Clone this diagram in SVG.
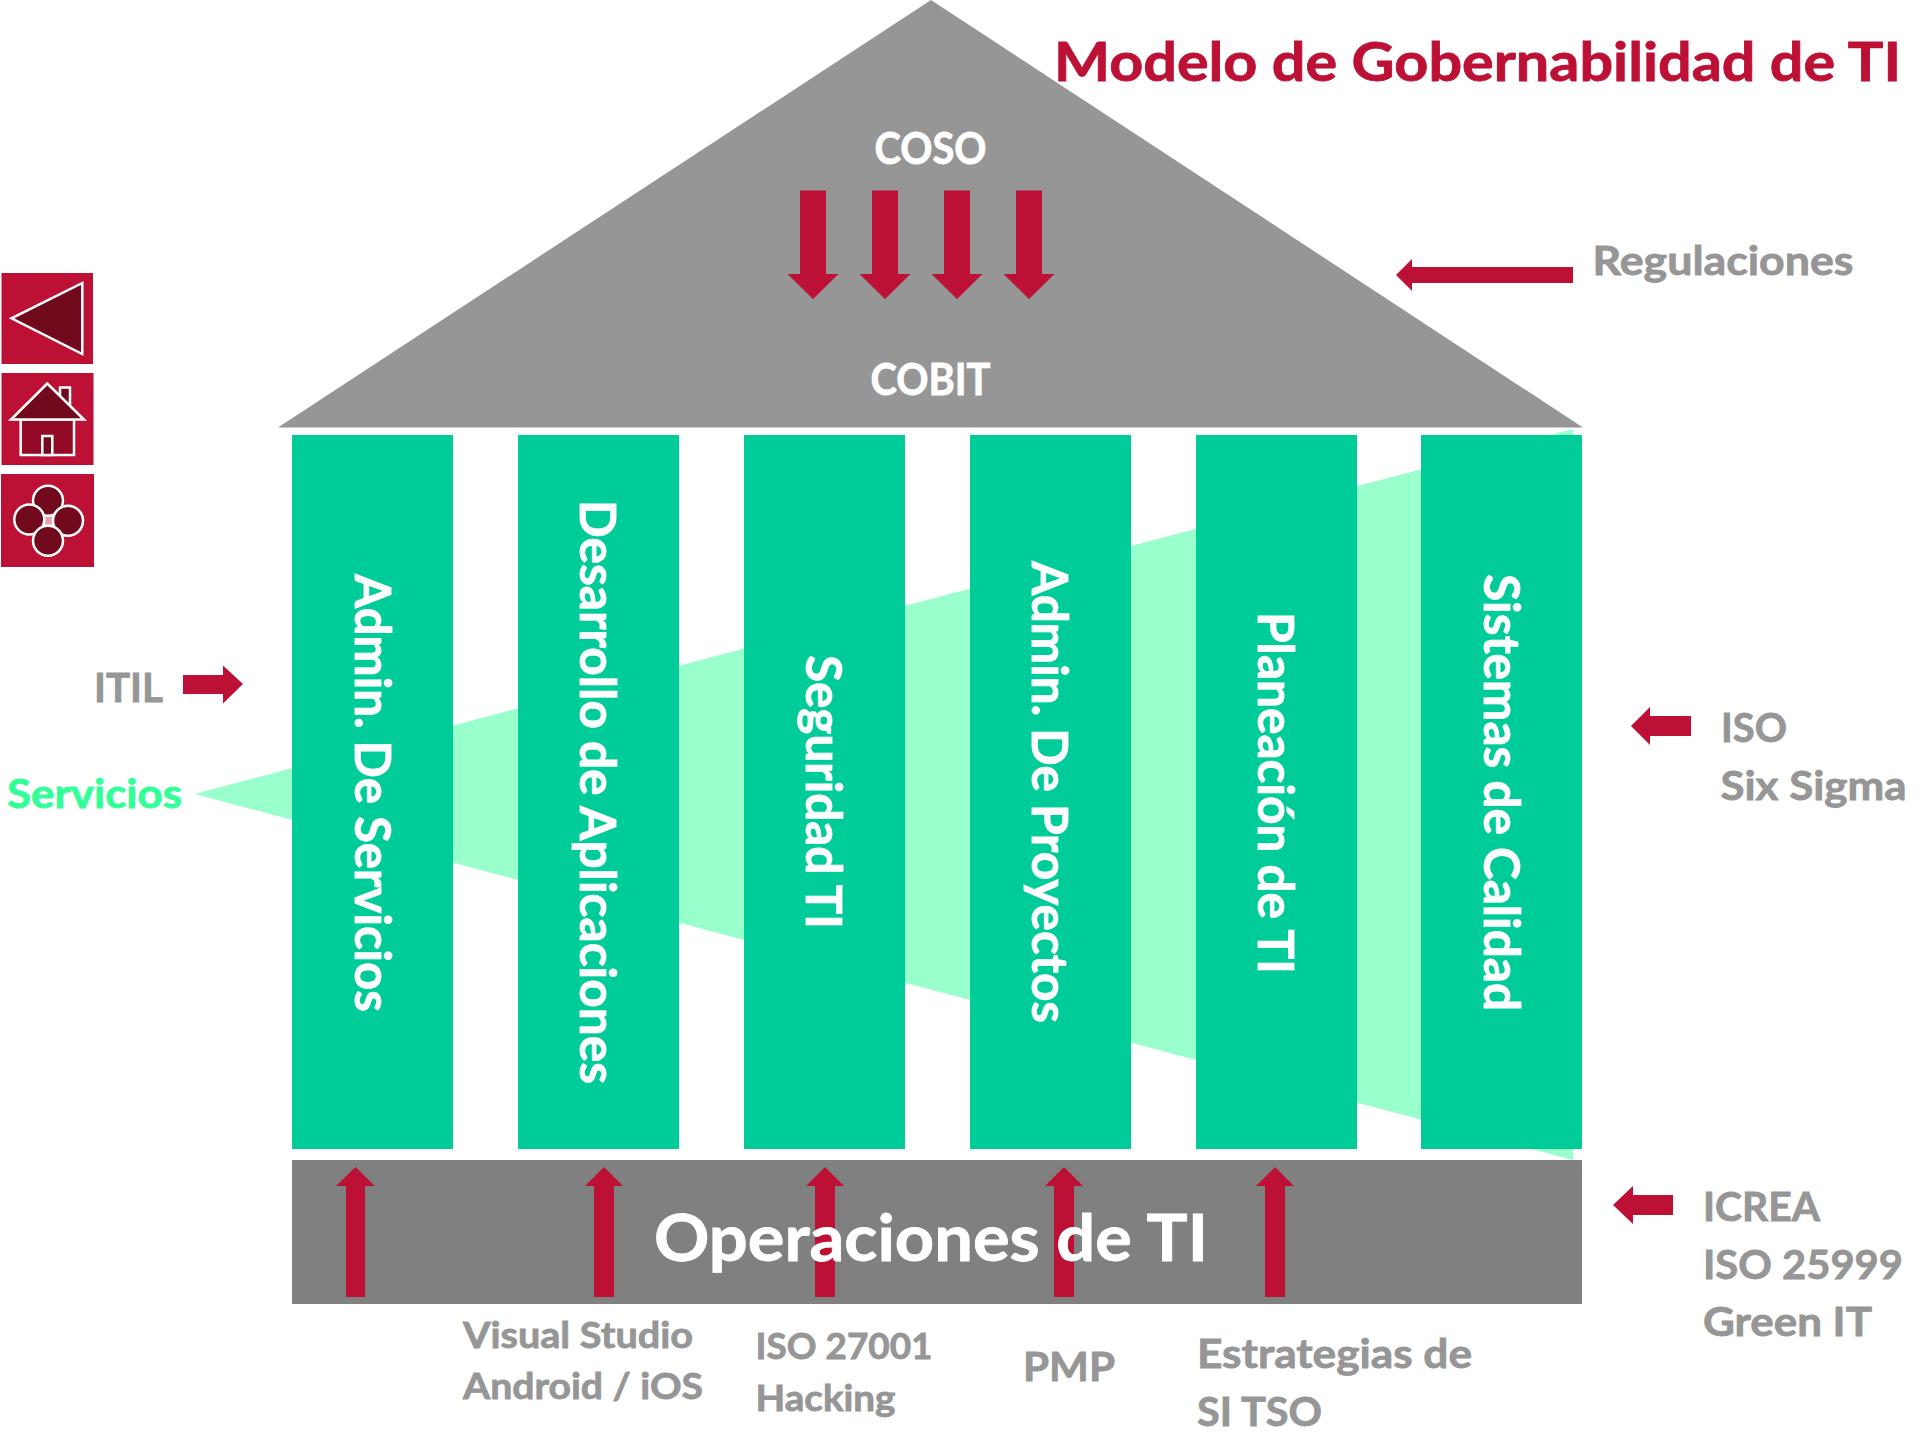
<svg xmlns="http://www.w3.org/2000/svg" width="1920" height="1440" viewBox="0 0 1920 1440">
<style>
text{font-family:"Lato","Open Sans","Liberation Sans",sans-serif;font-weight:700}
.g{fill:#969696;stroke:#969696;stroke-width:.8px;font-size:41px}
.w{fill:#fff;stroke:#fff;stroke-width:.8px}
.c{font-size:50px;fill:#fff;stroke:#fff;stroke-width:.8px}
.col{fill:#00CC99}
.red{fill:#BD1035}
.tile{fill:#BD1035}
.ic{fill:#720A1E;stroke:#fff;stroke-width:2.5}
</style>
<rect width="1920" height="1440" fill="#fff"/>
<g id="servicios-cone"><polygon points="194.5,794 1573,429 1573,1160" fill="#99FFCC"/></g>
<g id="techo">
<polygon points="931,0 278,427.500 1583,427.500" fill="#969696"/>
<text class="w" x="930.500" y="164" text-anchor="middle" font-size="44" textLength="112" lengthAdjust="spacingAndGlyphs">COSO</text>
<text class="w" x="930.500" y="395" text-anchor="middle" font-size="44" textLength="120" lengthAdjust="spacingAndGlyphs">COBIT</text>
</g>
<g id="col-servicios"><rect class="col" x="292" y="435" width="161" height="714"/><text class="c" transform="translate(354.500,574) rotate(90)" textLength="438" lengthAdjust="spacingAndGlyphs">Admin. De Servicios</text></g>
<g id="col-aplicaciones"><rect class="col" x="518" y="435" width="161" height="714"/><text class="c" transform="translate(580,500) rotate(90)" textLength="584" lengthAdjust="spacingAndGlyphs">Desarrollo de Aplicaciones</text></g>
<g id="col-seguridad"><rect class="col" x="744" y="435" width="161" height="714"/><text class="c" transform="translate(805.500,655) rotate(90)" textLength="274" lengthAdjust="spacingAndGlyphs">Seguridad TI</text></g>
<g id="col-proyectos"><rect class="col" x="970" y="435" width="161" height="714"/><text class="c" transform="translate(1031.500,561) rotate(90)" textLength="462" lengthAdjust="spacingAndGlyphs">Admin. De Proyectos</text></g>
<g id="col-planeacion"><rect class="col" x="1196" y="435" width="161" height="714"/><text class="c" transform="translate(1258,612) rotate(90)" textLength="362" lengthAdjust="spacingAndGlyphs">Planeación de TI</text></g>
<g id="col-calidad"><rect class="col" x="1421" y="435" width="161" height="714"/><text class="c" transform="translate(1484,574) rotate(90)" textLength="437" lengthAdjust="spacingAndGlyphs">Sistemas de Calidad</text></g>
<g id="operaciones-bar"><rect x="292" y="1160" width="1290" height="144" fill="#808080"/></g>
<g id="connectors" class="red">
<polygon points="800,190.500 826,190.500 826,274 838.500,274 813,299 787.500,274 800,274"/>
<polygon points="872,190.500 898,190.500 898,274 910.500,274 885,299 859.500,274 872,274"/>
<polygon points="944,190.500 970,190.500 970,274 982.500,274 957,299 931.500,274 944,274"/>
<polygon points="1016,190.500 1042,190.500 1042,274 1054.500,274 1029,299 1003.500,274 1016,274"/>
<polygon points="1396,275 1412,259 1412,267 1573,267 1573,283 1412,283 1412,291"/>
<polygon points="1631,726 1650,707 1650,716 1691,716 1691,736 1650,736 1650,745"/>
<polygon points="1613,1205 1633,1186 1633,1195 1673,1195 1673,1215 1633,1215 1633,1224"/>
<polygon points="243,684 223,665.500 223,675 183,675 183,694 223,694 223,703.500"/>
<polygon points="355.500,1167 375,1186 365,1186 365,1297 346,1297 346,1186 336,1186"/>
<polygon points="604,1167 623,1186 614,1186 614,1297 594,1297 594,1186 585,1186"/>
<polygon points="825,1167 844,1186 835,1186 835,1297 815,1297 815,1186 806,1186"/>
<polygon points="1064,1167 1083,1186 1074,1186 1074,1297 1054,1297 1054,1186 1045,1186"/>
<polygon points="1275,1167 1294,1186 1285,1186 1285,1297 1265,1297 1265,1186 1256,1186"/>
</g>
<g id="operaciones-label"><text class="w" x="931" y="1261" text-anchor="middle" font-size="65" textLength="554" lengthAdjust="spacingAndGlyphs">Operaciones de TI</text></g>
<g id="titulo"><text x="1054" y="81" font-size="53" fill="#BD1035" stroke="#BD1035" stroke-width=".8" textLength="847" lengthAdjust="spacingAndGlyphs">Modelo de Gobernabilidad de TI</text></g>
<g id="labels">
<text class="g" x="1592.500" y="275" textLength="261" lengthAdjust="spacingAndGlyphs">Regulaciones</text>
<text class="g" x="1721" y="742" textLength="66" lengthAdjust="spacingAndGlyphs">ISO</text>
<text class="g" x="1720.500" y="800" textLength="186" lengthAdjust="spacingAndGlyphs">Six Sigma</text>
<text class="g" x="1703" y="1221" textLength="117" lengthAdjust="spacingAndGlyphs">ICREA</text>
<text class="g" x="1703" y="1279" textLength="200" lengthAdjust="spacingAndGlyphs">ISO 25999</text>
<text class="g" x="1703" y="1336" textLength="169" lengthAdjust="spacingAndGlyphs">Green IT</text>
<text class="g" x="94" y="702" textLength="69" lengthAdjust="spacingAndGlyphs">ITIL</text>
<text x="7" y="808" font-size="41" fill="#33FF99" stroke="#33FF99" stroke-width=".8" textLength="175" lengthAdjust="spacingAndGlyphs">Servicios</text>
<text class="g" style="font-size:37px" x="463" y="1348" textLength="230" lengthAdjust="spacingAndGlyphs">Visual Studio</text>
<text class="g" style="font-size:37px" x="463" y="1399" textLength="240" lengthAdjust="spacingAndGlyphs">Android / iOS</text>
<text class="g" style="font-size:37px" x="755.500" y="1359" textLength="177" lengthAdjust="spacingAndGlyphs">ISO 27001</text>
<text class="g" style="font-size:37px" x="755.500" y="1411" textLength="140" lengthAdjust="spacingAndGlyphs">Hacking</text>
<text class="g" x="1023" y="1381" textLength="92" lengthAdjust="spacingAndGlyphs">PMP</text>
<text class="g" x="1197" y="1368" textLength="275" lengthAdjust="spacingAndGlyphs">Estrategias de</text>
<text class="g" x="1197" y="1426" textLength="125" lengthAdjust="spacingAndGlyphs">SI TSO</text>
</g>
<g id="icon-back">
<rect class="tile" x="1.500" y="273" width="91.500" height="91"/>
<polygon class="ic" points="82.300,283 11.500,318.300 82.300,354"/>
</g>
<g id="icon-home">
<rect class="tile" x="1.500" y="373" width="92" height="92"/>
<rect class="ic" x="60" y="387.500" width="10" height="20"/>
<rect x="20.700" y="419.500" width="53.300" height="35.500" fill="#930A26" stroke="#fff" stroke-width="2.500"/>
<rect class="ic" x="42.300" y="436" width="10" height="19"/>
<polygon class="ic" points="47.300,383.500 11,419.500 84,419.500"/>
</g>
<g id="icon-map">
<rect class="tile" x="1" y="474" width="93" height="93"/>
<rect x="44" y="515" width="9.500" height="10.500" fill="#E8A0B0" stroke="#fff" stroke-width="2"/>
<circle class="ic" cx="48" cy="500.800" r="15"/>
<circle class="ic" cx="29.300" cy="519.500" r="15"/>
<circle class="ic" cx="68" cy="520.700" r="15"/>
<circle class="ic" cx="48" cy="540.800" r="15"/>
</g>
</svg>
